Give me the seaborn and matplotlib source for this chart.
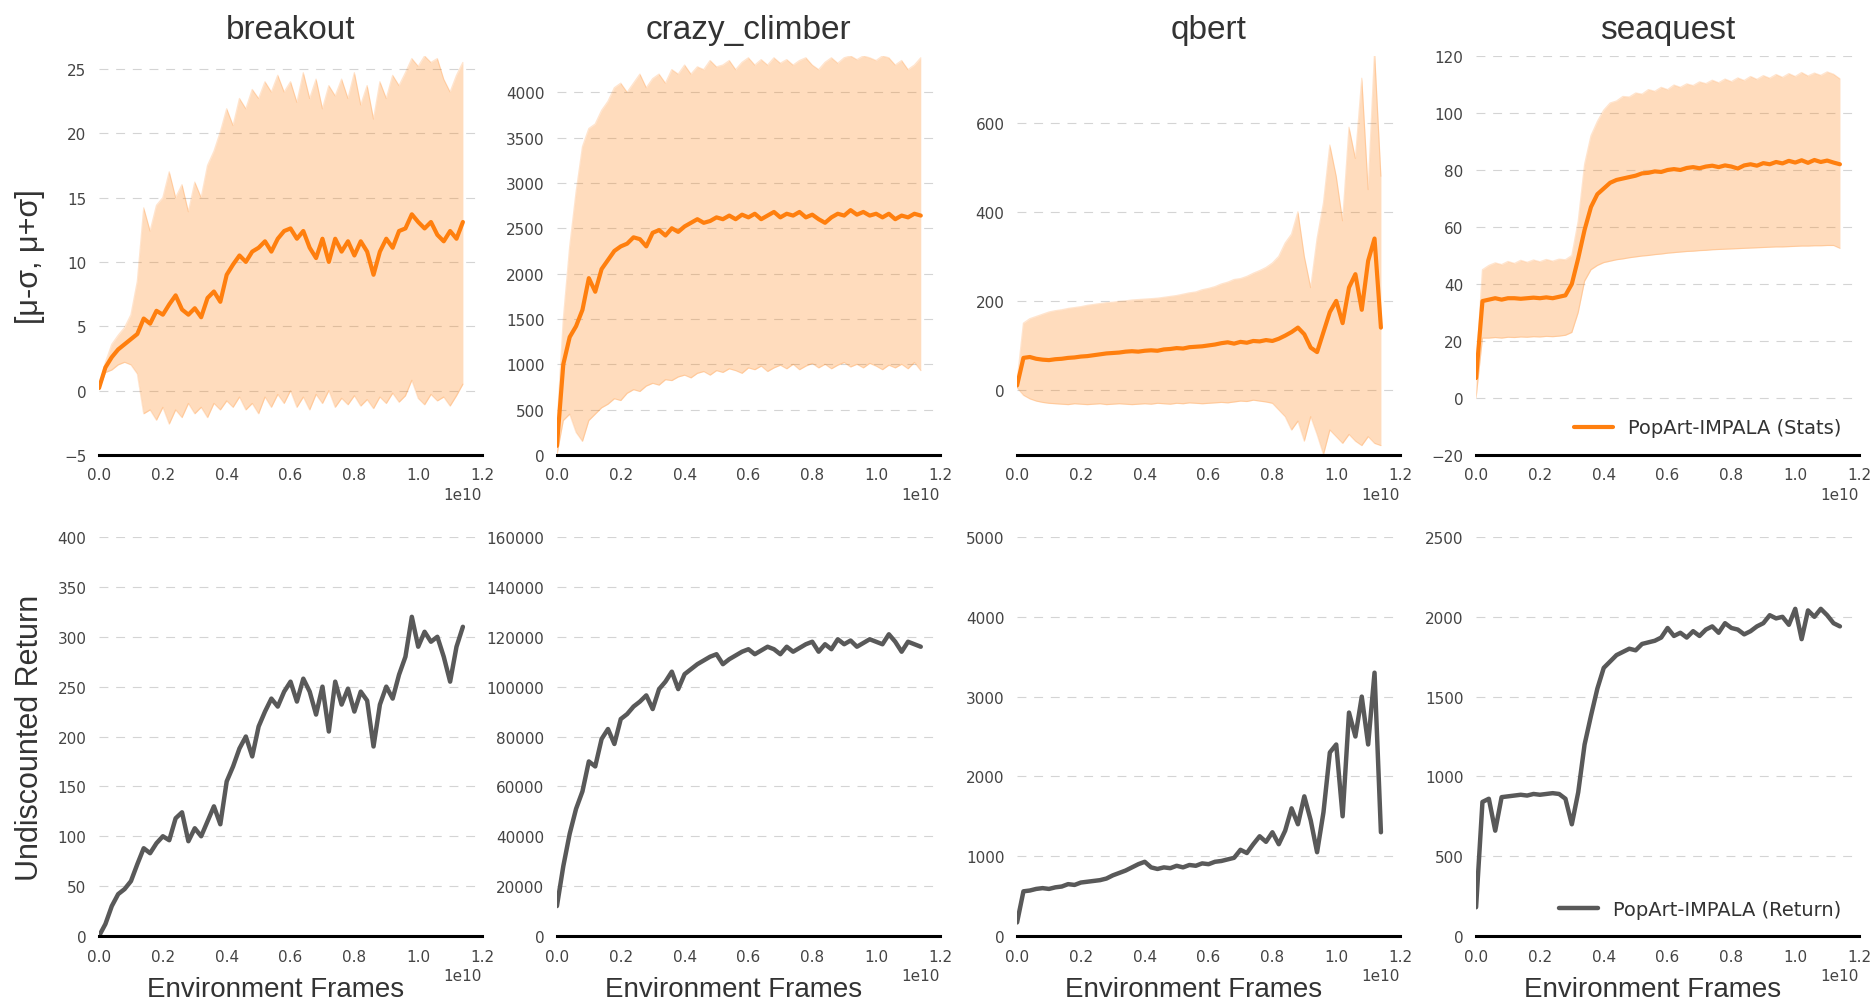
import matplotlib
matplotlib.use('Agg')
import numpy as np
import pandas as pd
import matplotlib.pyplot as plt
import seaborn as sns

games = ['breakout', 'crazy_climber', 'qbert', 'seaquest']

# environment frames, in units of 1e9
frames_1e9 = [0.0, 0.2, 0.4, 0.6, 0.8, 1.0, 1.2, 1.4, 1.6, 1.8,
              2.0, 2.2, 2.4, 2.6, 2.8, 3.0, 3.2, 3.4, 3.6, 3.8,
              4.0, 4.2, 4.4, 4.6, 4.8, 5.0, 5.2, 5.4, 5.6, 5.8,
              6.0, 6.2, 6.4, 6.6, 6.8, 7.0, 7.2, 7.4, 7.6, 7.8,
              8.0, 8.2, 8.4, 8.6, 8.8, 9.0, 9.2, 9.4, 9.6, 9.8,
              10.0, 10.2, 10.4, 10.6, 10.8, 11.0, 11.2, 11.4]

# ---- top row: PopArt statistics (mean and mean +/- std)
breakout_mean = [0.2, 1.8, 2.6, 3.2, 3.6, 4.0, 4.4, 5.6, 5.2, 6.2,
                 5.9, 6.7, 7.4, 6.3, 5.9, 6.4, 5.7, 7.2, 7.7, 6.9,
                 9.0, 9.8, 10.5, 10.0, 10.8, 11.1, 11.6, 10.8, 11.8, 12.4,
                 12.6, 11.8, 12.4, 11.1, 10.3, 11.8, 10.0, 11.8, 10.8, 11.6,
                 10.5, 11.6, 10.8, 9.0, 10.8, 11.8, 11.1, 12.4, 12.6, 13.7,
                 13.1, 12.6, 13.1, 12.1, 11.6, 12.4, 11.8, 13.1]
breakout_upper = [0.3, 2.2, 3.6, 4.3, 4.9, 5.9, 8.5, 14.2, 12.4, 14.4,
                  15.0, 17.0, 15.0, 16.0, 13.9, 16.2, 15.0, 17.5, 18.6, 20.1,
                  21.9, 20.6, 22.7, 21.9, 23.4, 22.7, 24.0, 23.2, 24.5, 23.2,
                  24.0, 22.4, 24.7, 22.7, 24.2, 21.9, 23.7, 22.9, 24.2, 22.7,
                  24.7, 22.2, 23.7, 21.1, 24.0, 22.7, 24.5, 23.7, 24.7, 25.8,
                  25.2, 26.0, 25.5, 25.8, 24.2, 23.2, 24.5, 25.5]
breakout_lower = [0.1, 1.4, 1.6, 2.0, 2.2, 2.0, 1.3, -1.8, -1.5, -2.3,
                  -1.3, -2.6, -1.5, -2.1, -1.0, -1.8, -1.3, -2.1, -1.0, -1.5,
                  -0.8, -1.3, -0.5, -1.5, -1.0, -1.8, -0.5, -1.3, -0.3, -1.0,
                  0.0, -1.3, -0.5, -1.5, -0.3, -1.0, 0.0, -1.3, -0.6, -1.1,
                  -0.4, -1.2, -0.7, -1.4, -0.5, -1.0, -0.2, -0.9, -0.4, 0.8,
                  -0.6, -1.1, -0.3, -0.8, -0.5, -1.2, -0.4, 0.5]

crazy_mean = [100, 1000, 1300, 1420, 1600, 1950, 1800, 2050, 2150, 2250,
              2300, 2330, 2400, 2380, 2300, 2450, 2480, 2420, 2500, 2460,
              2520, 2560, 2600, 2560, 2580, 2620, 2600, 2640, 2600, 2650,
              2620, 2660, 2600, 2640, 2680, 2620, 2660, 2640, 2680, 2620,
              2650, 2600, 2560, 2620, 2660, 2640, 2700, 2650, 2680, 2640,
              2660, 2620, 2660, 2600, 2640, 2620, 2660, 2640]
crazy_upper = [300, 1500, 2300, 2900, 3400, 3600, 3650, 3800, 3900, 4050,
               4100, 4000, 4100, 4200, 4050, 4150, 4200, 4100, 4250, 4200,
               4300, 4200, 4280, 4250, 4350, 4280, 4300, 4350, 4250, 4330,
               4380, 4300, 4360, 4300, 4380, 4320, 4360, 4300, 4350, 4380,
               4300, 4250, 4330, 4380, 4320, 4380, 4400, 4360, 4400, 4380,
               4350, 4400, 4380, 4300, 4350, 4250, 4300, 4380]
crazy_lower = [0, 380, 450, 250, 150, 380, 450, 520, 560, 620,
               600, 680, 720, 700, 760, 790, 770, 830, 820, 860,
               880, 850, 900, 920, 880, 930, 910, 950, 930, 900,
               960, 940, 980, 920, 960, 990, 950, 1000, 940, 980,
               1010, 960, 1000, 950, 990, 1020, 970, 1000, 960, 1010,
               980, 940, 990, 960, 1000, 950, 1020, 930]

qbert_mean = [10, 72, 74, 70, 68, 67, 69, 70, 72, 73,
              75, 76, 78, 80, 82, 83, 84, 86, 87, 86,
              88, 89, 88, 91, 92, 94, 93, 96, 97, 98,
              100, 102, 105, 107, 104, 108, 106, 110, 109, 112,
              110, 115, 122, 130, 140, 125, 95, 85, 130, 175,
              200, 150, 230, 260, 180, 290, 340, 140]
qbert_upper = [20, 150, 160, 165, 170, 175, 178, 180, 183, 185,
               187, 190, 192, 194, 196, 197, 199, 200, 202, 203,
               204, 205, 206, 208, 210, 212, 215, 218, 220, 225,
               228, 232, 238, 242, 248, 250, 255, 262, 268, 275,
               285, 300, 330, 350, 400, 300, 230, 340, 420, 550,
               480, 380, 590, 520, 700, 450, 760, 480]
qbert_lower = [5, -12, -20, -25, -28, -30, -31, -32, -33, -31,
               -32, -33, -32, -31, -33, -32, -31, -32, -33, -32,
               -31, -32, -30, -31, -32, -30, -31, -29, -30, -31,
               -30, -29, -28, -29, -27, -25, -26, -23, -25, -27,
               -30, -45, -60, -90, -70, -115, -60, -100, -145, -90,
               -105, -120, -100, -115, -125, -105, -120, -125]

seaquest_mean = [7, 34, 34.5, 35, 34.5, 35, 35, 34.8, 35, 35.2,
                 35, 35.3, 35, 35.5, 36, 40, 49, 59, 67, 71.5,
                 73.5, 75.5, 76.5, 77, 77.5, 78, 78.8, 79, 79.5, 79.3,
                 80, 80.3, 80, 80.7, 81, 80.6, 81.2, 81.5, 81, 81.6,
                 81.2, 80.5, 81.6, 82, 81.5, 82.4, 82, 82.8, 82.3, 83.2,
                 82.6, 83.4, 82.5, 83.5, 82.8, 83.3, 82.6, 82]
seaquest_upper = [10, 45, 46.5, 47.4, 46.8, 47.9, 47.2, 48.3, 47.6, 48.4,
                  47.8, 48.6, 48.0, 48.7, 48.5, 50, 62, 82, 92, 97,
                  101, 103.5, 104.2, 105.8, 105.6, 107.0, 106.6, 108.2, 107.6, 109.0,
                  108.2, 109.8, 109.0, 110.2, 109.6, 110.9, 110.3, 111.5, 110.6, 111.9,
                  111.0, 112.3, 111.4, 112.8, 111.8, 113.1, 112.2, 113.5, 112.5, 113.8,
                  112.8, 114.2, 113.0, 114.0, 113.2, 114.4, 113.6, 112]
seaquest_lower = [0, 21, 21, 21.2, 21, 21.3, 21.2, 21.4, 21.3, 21.5,
                  21.4, 21.6, 21.5, 21.7, 22, 23, 30, 41, 45, 46.5,
                  47.5, 48, 48.5, 48.8, 49.2, 49.5, 49.8, 50, 50.3, 50.5,
                  50.8, 51, 51.2, 51.4, 51.5, 51.7, 51.8, 52, 52.1, 52.2,
                  52.3, 52.4, 52.5, 52.6, 52.7, 52.8, 52.9, 53, 53, 53.1,
                  53.2, 53.3, 53.3, 53.4, 53.4, 53.5, 53.5, 52.5]

# ---- bottom row: undiscounted return
breakout_ret = [0, 12, 30, 42, 47, 55, 72, 88, 83, 93,
                100, 96, 118, 124, 95, 108, 100, 115, 130, 112,
                155, 170, 188, 200, 180, 210, 225, 238, 230, 245,
                255, 235, 258, 245, 222, 250, 205, 255, 232, 248,
                225, 245, 236, 190, 232, 250, 238, 262, 280, 320,
                290, 305, 295, 300, 280, 255, 290, 310]
crazy_ret = [12000, 28000, 41000, 51000, 58000, 70000, 68000, 79000, 83000, 77000,
             87000, 89000, 92000, 94000, 96500, 91000, 99000, 102000, 106000, 99000,
             105000, 107000, 109000, 110500, 112000, 113000, 109000, 111000, 112500, 114000,
             115000, 113000, 114500, 116000, 115000, 113000, 116000, 114000, 115500, 117000,
             118000, 114000, 117000, 115000, 119000, 117000, 118500, 116000, 117500, 119000,
             118000, 117000, 121000, 118000, 114000, 118000, 117000, 116000]
qbert_ret = [170, 560, 570, 590, 600, 590, 610, 620, 650, 640,
             670, 680, 690, 700, 720, 760, 790, 820, 860, 900,
             930, 860, 840, 860, 850, 880, 860, 890, 880, 910,
             900, 930, 940, 960, 980, 1080, 1040, 1150, 1250, 1180,
             1300, 1150, 1320, 1600, 1400, 1750, 1450, 1050, 1550, 2300,
             2400, 1500, 2800, 2500, 3000, 2400, 3300, 1300]
seaquest_ret = [180, 840, 860, 660, 870, 875, 880, 885, 880, 890,
                885, 890, 895, 890, 860, 700, 900, 1200, 1380, 1550,
                1680, 1720, 1760, 1780, 1800, 1790, 1830, 1840, 1850, 1870,
                1930, 1880, 1900, 1870, 1910, 1880, 1920, 1940, 1900, 1960,
                1930, 1920, 1890, 1910, 1940, 1960, 2010, 1990, 2000, 1950,
                2050, 1860, 2040, 2000, 2050, 2010, 1960, 1940]

stats_mean = [breakout_mean, crazy_mean, qbert_mean, seaquest_mean]
stats_upper = [breakout_upper, crazy_upper, qbert_upper, seaquest_upper]
stats_lower = [breakout_lower, crazy_lower, qbert_lower, seaquest_lower]
returns = [breakout_ret, crazy_ret, qbert_ret, seaquest_ret]

top_ylims = [(-5, 26), (0, 4400), (-146, 750), (-20, 120)]
top_yticks = [np.arange(-5, 26, 5), np.arange(0, 4001, 500),
              np.arange(0, 601, 200), np.arange(-20, 121, 20)]
bot_ylims = [(0, 400), (0, 160000), (0, 5000), (0, 2500)]
bot_yticks = [np.arange(0, 401, 50), np.arange(0, 160001, 20000),
              np.arange(0, 5001, 1000), np.arange(0, 2501, 500)]

ORANGE = '#ff7f0e'
GREY = '#595959'

sns.set_theme(style='whitegrid')
plt.rcParams['font.family'] = ['DejaVu Sans']

fig = plt.figure(figsize=(18.72, 10.03), dpi=100)

lefts = [0.0529, 0.2975, 0.5433, 0.7885]
width = 0.2046
height = 0.3978
frames = np.array(frames_1e9) * 1e9


def style_axis(ax, ylim, yticks):
    ax.set_facecolor('white')
    ax.set_xlim(0, 1.2e10)
    ax.set_xticks(np.arange(0, 1.21e10, 0.2e10))
    ax.set_ylim(*ylim)
    ax.set_yticks(yticks)
    ax.set_axisbelow(True)
    ax.grid(axis='x', visible=False)
    ax.grid(axis='y', color='#d4d4d4', linestyle=(0, (8, 7)), linewidth=0.8)
    for s in ['left', 'right', 'top']:
        ax.spines[s].set_visible(False)
    ax.spines['bottom'].set_color('black')
    ax.spines['bottom'].set_linewidth(2.2)
    ax.tick_params(axis='both', length=0, pad=9, labelsize=11, labelcolor='#444444')
    ax.xaxis.get_offset_text().set_fontsize(11)
    ax.xaxis.get_offset_text().set_color('#444444')
    ax.set_xlabel('')
    ax.set_ylabel('')


for i, game in enumerate(games):
    # top row
    ax = fig.add_axes([lefts[i], 0.5454, width, height])
    ax.fill_between(frames, stats_lower[i], stats_upper[i],
                    color=ORANGE, alpha=0.27, linewidth=0)
    ax.plot(frames, stats_upper[i], color=ORANGE, alpha=0.2, lw=0.9)
    ax.plot(frames, stats_lower[i], color=ORANGE, alpha=0.2, lw=0.9)
    df = pd.DataFrame({'frames': frames, 'value': stats_mean[i]})
    sns.lineplot(data=df, x='frames', y='value', ax=ax, color=ORANGE,
                 linewidth=3.0, estimator=None,
                 label='PopArt-IMPALA (Stats)' if game == 'seaquest' else None,
                 legend=False)
    style_axis(ax, top_ylims[i], top_yticks[i])
    ax.set_title(game, fontsize=24, color='#333333', pad=13,
                 family=['Liberation Sans', 'DejaVu Sans'])
    if i == 0:
        ax.set_ylabel('[μ-σ, μ+σ]', fontsize=22, color='#333333',
                      family=['Liberation Sans', 'DejaVu Sans'])
        ax.yaxis.set_label_coords(-0.14, 0.5)
    if game == 'seaquest':
        ax.legend(loc='lower right', frameon=False, fontsize=14,
                  labelcolor='#333333')

    # bottom row
    ax = fig.add_axes([lefts[i], 0.0658, width, height])
    df = pd.DataFrame({'frames': frames, 'value': returns[i]})
    sns.lineplot(data=df, x='frames', y='value', ax=ax, color=GREY,
                 linewidth=3.2, estimator=None,
                 label='PopArt-IMPALA (Return)' if game == 'seaquest' else None,
                 legend=False)
    style_axis(ax, bot_ylims[i], bot_yticks[i])
    ax.set_xlabel('Environment Frames', fontsize=20, color='#333333',
                  family=['Liberation Sans', 'DejaVu Sans'])
    ax.xaxis.set_label_coords(0.46, -0.10)
    if i == 0:
        ax.set_ylabel('Undiscounted Return', fontsize=22, color='#333333',
                      family=['Liberation Sans', 'DejaVu Sans'])
        ax.yaxis.set_label_coords(-0.14, 0.5)
    if game == 'seaquest':
        ax.legend(loc='lower right', frameon=False, fontsize=14,
                  labelcolor='#333333')

fig.savefig('out.png', dpi=100)
